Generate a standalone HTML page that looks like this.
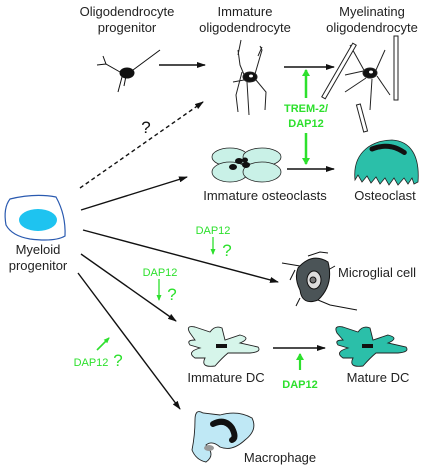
<!DOCTYPE html>
<html><head><meta charset="utf-8"><style>
html,body{margin:0;padding:0;background:#fff;width:425px;height:472px;overflow:hidden}
svg{display:block;font-family:"Liberation Sans",Arial,sans-serif}
.t{font-size:13px;fill:#222;text-anchor:middle}
.g{fill:#2de02d;font-size:11px;text-anchor:middle}
.gb{fill:#2de02d;font-size:11px;font-weight:bold;text-anchor:middle}
.ar{stroke:#111;stroke-width:1.4;fill:none}
</style></head><body>
<svg width="425" height="472" viewBox="0 0 425 472">
<defs>
<marker id="ah" markerUnits="userSpaceOnUse" markerWidth="9" markerHeight="6" refX="8" refY="3" orient="auto"><path d="M0,0 L9,3 L0,6 z" fill="#111"/></marker>
<marker id="gh" markerUnits="userSpaceOnUse" markerWidth="7" markerHeight="8" refX="6" refY="4" orient="auto"><path d="M0,0 L7,4 L0,8 z" fill="#2de02d"/></marker>
<marker id="gs" markerUnits="userSpaceOnUse" markerWidth="6" markerHeight="5" refX="5" refY="2.5" orient="auto"><path d="M0,0 L6,2.5 L0,5 z" fill="#2de02d"/></marker>
</defs>
<g><text class="t" x="127" y="16">Oligodendrocyte</text><text class="t" x="127" y="32">progenitor</text></g>
<g><text class="t" x="245" y="16">Immature</text><text class="t" x="245" y="32">oligodendrocyte</text></g>
<g><text class="t" x="372" y="16">Myelinating</text><text class="t" x="372" y="32">oligodendrocyte</text></g>
<g stroke="#111" stroke-width="1" fill="none">
<path d="M120,72 L106,64 L103,56 M106,64 L97,65 M133,70 L160,50 M122,77 L118,92 M126,76 L124,86"/>
<ellipse cx="127" cy="73" rx="7" ry="5" fill="#111"/></g>
<line class="ar" x1="159" y1="65" x2="205" y2="65" marker-end="url(#ah)"/>
<g stroke="#222" stroke-width="1" fill="none">
<path d="M245,77 L240,65 L238,50 M242,72 L236,95 L238,112 M255,74 L262,50 L260,46 M256,80 L266,92 L265,110 M244,80 L233,82 M247,82 L249,115 M238,55 L241,40 M258,56 L262,47"/>
<ellipse cx="250" cy="77" rx="7" ry="5" fill="#111"/><ellipse cx="251" cy="76" rx="2" ry="1.5" fill="#fff" stroke="none"/></g>
<line class="ar" x1="284" y1="67" x2="334" y2="67" marker-end="url(#ah)"/>
<g stroke="#222" stroke-width="1" fill="#fff">
<path d="M365,72 L350,45 M376,70 L385,50 M366,78 L345,92 M372,79 L370,110 M377,76 L390,95 M368,70 L345,75" fill="none"/>
<rect x="337" y="40" width="4" height="62" transform="rotate(30 339 71)"/>
<rect x="394" y="36" width="4" height="64"/>
<rect x="360" y="104" width="4" height="28" transform="rotate(-15 362 118)"/>
<ellipse cx="370" cy="73" rx="7" ry="5" fill="#111"/><ellipse cx="371" cy="72" rx="2" ry="1.5" fill="#fff" stroke="none"/></g>
<g>
<line x1="306" y1="98" x2="306" y2="70" stroke="#2de02d" stroke-width="2.5" marker-end="url(#gh)"/>
<line x1="306" y1="133" x2="306" y2="164" stroke="#2de02d" stroke-width="2.5" marker-end="url(#gh)"/>
<text class="gb" x="306" y="112">TREM-2/</text><text class="gb" x="306" y="127">DAP12</text></g>
<line class="ar" x1="80" y1="188" x2="203" y2="102" stroke-dasharray="4,3" marker-end="url(#ah)"/>
<text x="146" y="133" font-size="17" fill="#111" text-anchor="middle">?</text>
<g stroke="#222" stroke-width="0.8" fill="#c9f1e7">
<ellipse cx="230" cy="157" rx="18" ry="9"/><ellipse cx="262" cy="157" rx="19" ry="9"/><ellipse cx="230" cy="172" rx="18" ry="10"/><ellipse cx="262" cy="172" rx="19" ry="10"/>
<g fill="#111" stroke="none"><ellipse cx="239" cy="161" rx="4" ry="3"/><ellipse cx="246" cy="165" rx="4" ry="3"/><ellipse cx="233" cy="167" rx="4" ry="3"/><ellipse cx="245" cy="160" rx="3" ry="2.5"/></g></g>
<line class="ar" x1="287" y1="169" x2="334" y2="169" marker-end="url(#ah)"/>
<g>
<path d="M355,180 C352,150 375,140 392,140 C410,141 420,155 418,182 L414,184 L412,178 L408,184 L404,178 L398,185 L394,178 L389,185 L385,178 L380,184 L376,177 L371,183 L367,176 L362,182 L358,175 Z" fill="#2bbfa9" stroke="#222" stroke-width="0.8"/>
<path d="M372,149 Q390,142 405,153" stroke="#111" stroke-width="5" fill="none" stroke-linecap="round" stroke-dasharray="6,1"/></g>
<text class="t" x="265" y="200">Immature osteoclasts</text>
<text class="t" x="385" y="200">Osteoclast</text>
<g>
<path d="M10,199 Q35,193 56,197 Q66,215 65,236 Q55,242 30,239 Q12,236 6,225 Q3,208 10,199 Z" fill="#fff" stroke="#2a5ab0" stroke-width="1.2"/>
<ellipse cx="38" cy="220" rx="19" ry="11" fill="#1ec3f0"/></g>
<g><text class="t" x="38" y="254">Myeloid</text><text class="t" x="38" y="270">progenitor</text></g>
<line class="ar" x1="81" y1="210" x2="187" y2="177" marker-end="url(#ah)"/>
<line class="ar" x1="83" y1="230" x2="278" y2="282" marker-end="url(#ah)"/>
<line class="ar" x1="81" y1="254" x2="176" y2="321" marker-end="url(#ah)"/>
<line class="ar" x1="78" y1="273" x2="180" y2="409" marker-end="url(#ah)"/>
<g><text class="g" x="213" y="234">DAP12</text><line x1="213" y1="237" x2="213" y2="254" stroke="#2de02d" stroke-width="1.3" marker-end="url(#gs)"/><text x="227" y="256" font-size="17" fill="#2de02d" text-anchor="middle">?</text></g>
<g><text class="g" x="160" y="276">DAP12</text><line x1="159" y1="279" x2="159" y2="300" stroke="#2de02d" stroke-width="1.3" marker-end="url(#gs)"/><text x="172" y="300" font-size="17" fill="#2de02d" text-anchor="middle">?</text></g>
<g><line x1="97" y1="350" x2="109" y2="338" stroke="#2de02d" stroke-width="1.6" marker-end="url(#gs)"/><text class="g" x="91" y="366">DAP12</text><text x="118" y="366" font-size="17" fill="#2de02d" text-anchor="middle">?</text></g>
<g stroke="#111" stroke-width="1" fill="none">
<path d="M282,263 L300,266 M308,256 L320,252 L328,253 M328,270 L335,266 M318,300 L330,305 L357,310 M300,298 L296,306 M295,270 L290,280"/>
<path d="M298,268 Q312,252 328,262 Q334,285 318,300 Q302,306 300,290 Q294,278 298,268 Z" fill="#4b5457"/>
<ellipse cx="314" cy="280" rx="7" ry="9" fill="#ddd"/><circle cx="313" cy="280" r="3" fill="#777"/></g>
<text x="338" y="277" font-size="13" fill="#222">Microglial cell</text>
<g>
<path d="M190,333 Q185,325 195,327 L210,332 Q215,325 222,328 L225,340 L240,335 Q252,338 240,343 L258,347 Q262,352 250,353 L228,353 Q222,358 215,366 Q200,368 205,358 L195,358 Q186,352 200,348 L190,345 Q186,340 195,340 Z" fill="#d6f5ea" stroke="#222" stroke-width="0.9"/>
<rect x="216" y="344" width="11" height="4" fill="#111"/></g>
<text class="t" x="226" y="382">Immature DC</text>
<line class="ar" x1="273" y1="348" x2="325" y2="348" marker-end="url(#ah)"/>
<g><line x1="300" y1="370" x2="300" y2="354" stroke="#2de02d" stroke-width="2.2" marker-end="url(#gh)"/><text class="gb" x="300" y="388">DAP12</text></g>
<g>
<path d="M337,333 Q333,325 343,327 L358,332 Q363,325 370,328 L373,340 L388,335 Q400,338 388,343 L406,347 Q410,352 398,353 L376,353 Q370,358 363,366 Q348,368 353,358 L343,358 Q334,352 348,348 L338,345 Q334,340 343,340 Z" fill="#2bbfa9" stroke="#222" stroke-width="0.9"/>
<rect x="362" y="344" width="11" height="4" fill="#111"/></g>
<text class="t" x="378" y="382">Mature DC</text>
<g>
<path d="M195,420 Q195,408 203,413 L220,415 Q238,410 252,418 Q258,430 245,440 Q232,452 220,447 Q212,440 206,445 Q216,455 206,462 Q196,460 192,450 Q195,435 195,420 Z" fill="#bfe8f5" stroke="#222" stroke-width="0.9"/>
<path d="M213,424 Q225,418 232,428 Q237,438 232,440" stroke="#111" stroke-width="6" fill="none" stroke-linecap="round"/>
<ellipse cx="209" cy="448" rx="5" ry="3" fill="#999"/></g>
<text class="t" x="280" y="462">Macrophage</text>
</svg>
</body></html>
